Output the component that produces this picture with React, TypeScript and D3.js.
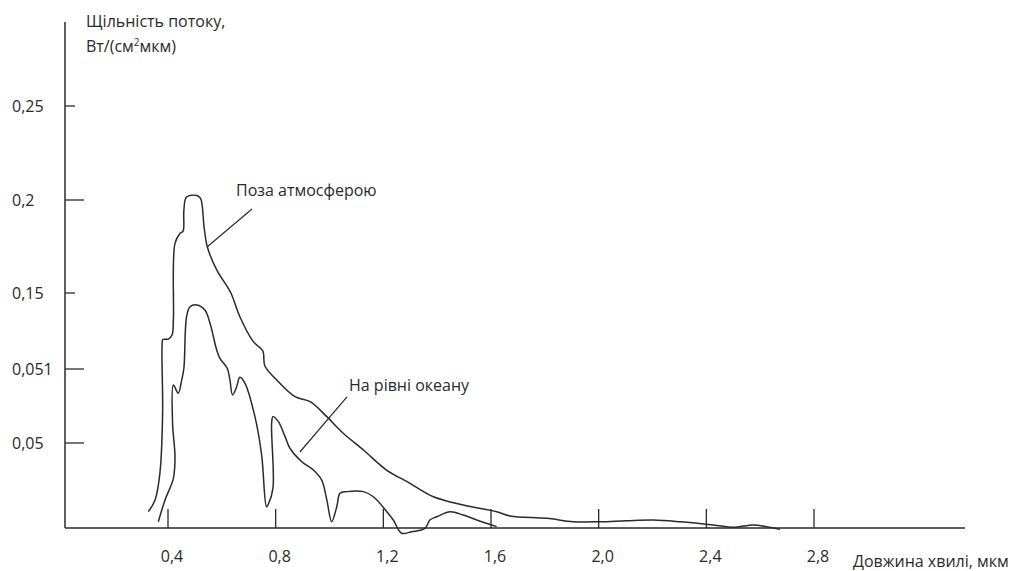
import * as d3 from 'd3';
import React from 'react';

// wavelength ticks, мкм
const xTicks = [0.4, 0.8, 1.2, 1.6, 2.0, 2.4, 2.8];
const xTickLabels = ['0,4', '0,8', '1,2', '1,6', '2,0', '2,4', '2,8'];

// flux ticks - labels kept as printed on the original
const yTicks = [0.05, 0.1, 0.15, 0.2, 0.25];
const yTickLabels = ['0,05', '0,051', '0,15', '0,2', '0,25'];
const yTickLong = [true, true, false, true, false];

// Поза атмосферою
const outsideX = [0.327, 0.352, 0.370, 0.380, 0.378, 0.381, 0.401, 0.415, 0.420, 0.426, 0.445, 0.456, 0.459, 0.469, 0.507, 0.521, 0.534, 0.546, 0.581, 0.624, 0.637, 0.667, 0.717, 0.752, 0.760, 0.804, 0.872, 0.928, 0.990, 1.051, 1.126, 1.212, 1.299, 1.386, 1.497, 1.621, 1.671, 1.807, 1.906, 2.005, 2.104, 2.203, 2.302, 2.426, 2.500, 2.574, 2.624, 2.674];
const outsideY = [0.0096, 0.0165, 0.0324, 0.0703, 0.1158, 0.1194, 0.1197, 0.1224, 0.1322, 0.1767, 0.1821, 0.1833, 0.1946, 0.2016, 0.2024, 0.2009, 0.1856, 0.1749, 0.1624, 0.1525, 0.1487, 0.1344, 0.1180, 0.1120, 0.1020, 0.0926, 0.0813, 0.0779, 0.0678, 0.0566, 0.0459, 0.0341, 0.0263, 0.0184, 0.0135, 0.0096, 0.0071, 0.0057, 0.0037, 0.0037, 0.0043, 0.0047, 0.0037, 0.0018, 0.0004, 0.0018, 0.0008, -0.0008];

// На рівні океану
const seaX = [0.364, 0.389, 0.420, 0.426, 0.417, 0.420, 0.438, 0.451, 0.459, 0.469, 0.482, 0.507, 0.537, 0.556, 0.581, 0.593, 0.620, 0.630, 0.640, 0.655, 0.667, 0.686, 0.723, 0.748, 0.766, 0.773, 0.790, 0.785, 0.790, 0.810, 0.835, 0.853, 0.897, 0.940, 0.971, 0.990, 1.008, 1.027, 1.039, 1.064, 1.126, 1.163, 1.213, 1.237, 1.268, 1.305, 1.355, 1.373, 1.398, 1.448, 1.497, 1.547, 1.621];
const seaY = [0.0037, 0.0165, 0.0292, 0.0419, 0.0633, 0.0892, 0.0836, 0.0926, 0.1005, 0.1344, 0.1410, 0.1421, 0.1388, 0.1301, 0.1125, 0.1070, 0.1005, 0.0926, 0.0824, 0.0880, 0.0944, 0.0903, 0.0678, 0.0429, 0.0125, 0.0141, 0.0234, 0.0633, 0.0678, 0.0644, 0.0543, 0.0469, 0.0390, 0.0341, 0.0282, 0.0165, 0.0037, 0.0125, 0.0204, 0.0214, 0.0214, 0.0184, 0.0096, 0.0047, -0.0031, -0.0022, -0.0002, 0.0047, 0.0066, 0.0096, 0.0076, 0.0047, 0.0008];

// callouts: [line start x, y, line end x, y]
const outsideNote = 'Поза атмосферою';
const outsideLeader = [0.546, 0.1749, 0.712, 0.1952];
const seaNote = 'На рівні океану';
const seaLeader = [0.890, 0.0447, 1.065, 0.0811];

const font = '"Open Sans", sans-serif';
const ink = '#2a2a2a';

function App() {
    const width = 1016;
    const height = 571;
    const axisX = 65;      // where the y axis stands
    const axisRight = 965;
    const axisTop = 22;

    const xScale = d3.scaleLinear()
        .domain([0.4, 2.8])
        .range([168, 814]);

    // the printed y axis is not evenly spaced, so it's piecewise
    const yScale = d3.scaleLinear()
        .domain([0, 0.05, 0.1, 0.15, 0.2, 0.25])
        .range([528, 443, 369, 293, 200, 106]);

    const y0 = yScale(0);

    const line = d3.line<[number, number]>()
        .x(d => xScale(d[0]))
        .y(d => yScale(d[1]))
        .curve(d3.curveCatmullRom.alpha(0.5));

    const outside = outsideX.map((x, i) => [x, outsideY[i]] as [number, number]);
    const sea = seaX.map((x, i) => [x, seaY[i]] as [number, number]);

    return (
        <svg width={width} height={height} style={{ position: 'absolute', left: 0, top: 0, background: '#fff' }}
            fontFamily={font} fontSize={16} fill={ink}>
            {/* axes */}
            <line x1={axisX} y1={axisTop} x2={axisX} y2={y0} stroke={ink} strokeWidth={1.5} />
            <line x1={axisX} y1={y0} x2={axisRight} y2={y0} stroke={ink} strokeWidth={1.5} />

            {yTicks.map((t, i) => (
                <g key={'y' + t}>
                    <line x1={axisX} x2={axisX + (yTickLong[i] ? 19 : 10)} y1={yScale(t)} y2={yScale(t)}
                        stroke={ink} strokeWidth={1.3} />
                    <text x={12} y={yScale(t) + 5.5}>{yTickLabels[i]}</text>
                </g>
            ))}

            {xTicks.map((t, i) => (
                <g key={'x' + t}>
                    <line x1={xScale(t)} x2={xScale(t)} y1={y0} y2={y0 - 19} stroke={ink} strokeWidth={1.3} />
                    <text x={xScale(t) + 4} y={562} textAnchor='middle'>{xTickLabels[i]}</text>
                </g>
            ))}

            <text x={86} y={27}>Щільність потоку,</text>
            <text x={86} y={52}>Вт/(см<tspan fontSize={10} dy={-6}>2</tspan><tspan dy={6}>мкм)</tspan></text>
            <text x={853} y={567}>Довжина хвилі, мкм</text>

            {/* spectra */}
            <path d={line(outside) || ''} fill='none' stroke={ink} strokeWidth={1.5} />
            <path d={line(sea) || ''} fill='none' stroke={ink} strokeWidth={1.5} />

            {/* callouts */}
            <line x1={xScale(outsideLeader[0])} y1={yScale(outsideLeader[1])}
                x2={xScale(outsideLeader[2])} y2={yScale(outsideLeader[3])} stroke={ink} strokeWidth={1.2} />
            <text x={236} y={196}>{outsideNote}</text>
            <line x1={xScale(seaLeader[0])} y1={yScale(seaLeader[1])}
                x2={xScale(seaLeader[2])} y2={yScale(seaLeader[3])} stroke={ink} strokeWidth={1.2} />
            <text x={349} y={391}>{seaNote}</text>
        </svg>
    );
}

export default App;
